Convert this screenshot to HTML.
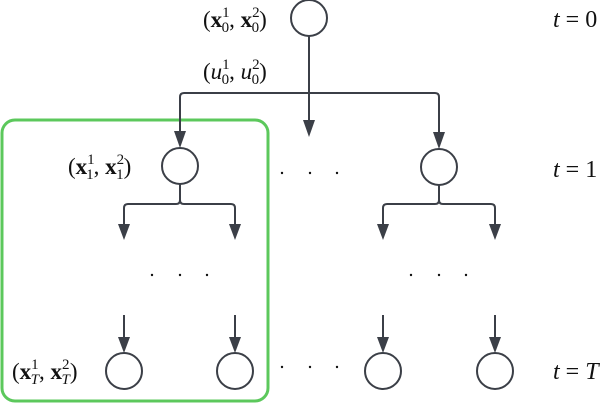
<!DOCTYPE html>
<html><head><meta charset="utf-8"><style>
html,body{margin:0;padding:0;background:#fff;width:608px;height:404px;overflow:hidden}
svg{display:block}
text{font-family:"Liberation Serif",serif;fill:#111}
</style></head><body>
<svg width="608" height="404" viewBox="0 0 608 404" xmlns="http://www.w3.org/2000/svg">
<g fill="none" stroke="#3b3f47" stroke-width="2">
<rect x="2" y="120" width="266" height="281" rx="13" stroke="#5cc85c" stroke-width="3"/>
<circle cx="309" cy="18" r="18"/>
<circle cx="180" cy="166" r="18"/>
<circle cx="439" cy="167" r="18"/>
<circle cx="124" cy="371" r="18"/>
<circle cx="235" cy="371" r="18"/>
<circle cx="383" cy="371" r="18"/>
<circle cx="495" cy="371" r="18"/>
<path d="M309 36V93 M184 93H435 Q439 93 439 97 M184 93 Q180 93 180 97V132 M439 97V136 M309 93V126"/>
<path d="M180 184V200 Q180 204 176 204H128 Q124 204 124 208V225 M180 200 Q180 204 184 204H231 Q235 204 235 208V225"/>
<path d="M439 185V200 Q439 204 435 204H387 Q383 204 383 208V225 M439 200 Q439 204 443 204H491 Q495 204 495 208V225"/>
<path d="M124 315V340 M235 315V340 M383 315V340 M495 315V340"/>
</g>
<g fill="#3b3f47">
<path d="M174 131h12l-6 17z"/>
<path d="M303 120h12l-6 17z"/>
<path d="M433 132h12l-6 17z"/>
<path d="M118 224h12l-6 16z M229 224h12l-6 16z M377 224h12l-6 16z M489 224h12l-6 16z"/>
<path d="M118 337h12l-6 16z M229 337h12l-6 16z M377 337h12l-6 16z M489 337h12l-6 16z"/>
</g>
<g fill="#111">
<circle cx="282" cy="173" r="1.2"/><circle cx="310" cy="173" r="1.2"/><circle cx="337" cy="173" r="1.2"/>
<circle cx="152" cy="275" r="1.2"/><circle cx="180" cy="275" r="1.2"/><circle cx="207" cy="275" r="1.2"/>
<circle cx="411" cy="275" r="1.2"/><circle cx="439" cy="275" r="1.2"/><circle cx="466" cy="275" r="1.2"/>
<circle cx="282" cy="367" r="1.2"/><circle cx="310" cy="367" r="1.2"/><circle cx="337" cy="367" r="1.2"/>
</g>
<text x="203" y="27" font-size="23">(<tspan font-weight="bold">x</tspan><tspan font-size="15" dy="-10">1</tspan><tspan font-size="15" dx="-8" dy="15">0</tspan><tspan dy="-5">, </tspan><tspan font-weight="bold">x</tspan><tspan font-size="15" dy="-10">2</tspan><tspan font-size="15" dx="-8" dy="15">0</tspan><tspan dy="-5">)</tspan></text>
<text x="203" y="79" font-size="23">(<tspan font-style="italic">u</tspan><tspan font-size="15" dy="-10">1</tspan><tspan font-size="15" dx="-8" dy="15">0</tspan><tspan dy="-5">, </tspan><tspan font-style="italic">u</tspan><tspan font-size="15" dy="-10">2</tspan><tspan font-size="15" dx="-8" dy="15">0</tspan><tspan dy="-5">)</tspan></text>
<text x="68" y="174" font-size="23">(<tspan font-weight="bold">x</tspan><tspan font-size="15" dy="-10">1</tspan><tspan font-size="15" dx="-8" dy="15">1</tspan><tspan dy="-5">, </tspan><tspan font-weight="bold">x</tspan><tspan font-size="15" dy="-10">2</tspan><tspan font-size="15" dx="-8" dy="15">1</tspan><tspan dy="-5">)</tspan></text>
<text x="12" y="379" font-size="23">(<tspan font-weight="bold">x</tspan><tspan font-size="15" dy="-10">1</tspan><tspan font-size="15" font-style="italic" dx="-8" dy="15">T</tspan><tspan dy="-5">, </tspan><tspan font-weight="bold">x</tspan><tspan font-size="15" dy="-10">2</tspan><tspan font-size="15" font-style="italic" dx="-8" dy="15">T</tspan><tspan dy="-5">)</tspan></text>
<text x="553" y="27" font-size="24"><tspan font-style="italic">t</tspan> = 0</text>
<text x="553" y="177" font-size="24"><tspan font-style="italic">t</tspan> = 1</text>
<text x="553" y="379" font-size="24"><tspan font-style="italic">t</tspan> = <tspan font-style="italic">T</tspan></text>
</svg>
</body></html>
